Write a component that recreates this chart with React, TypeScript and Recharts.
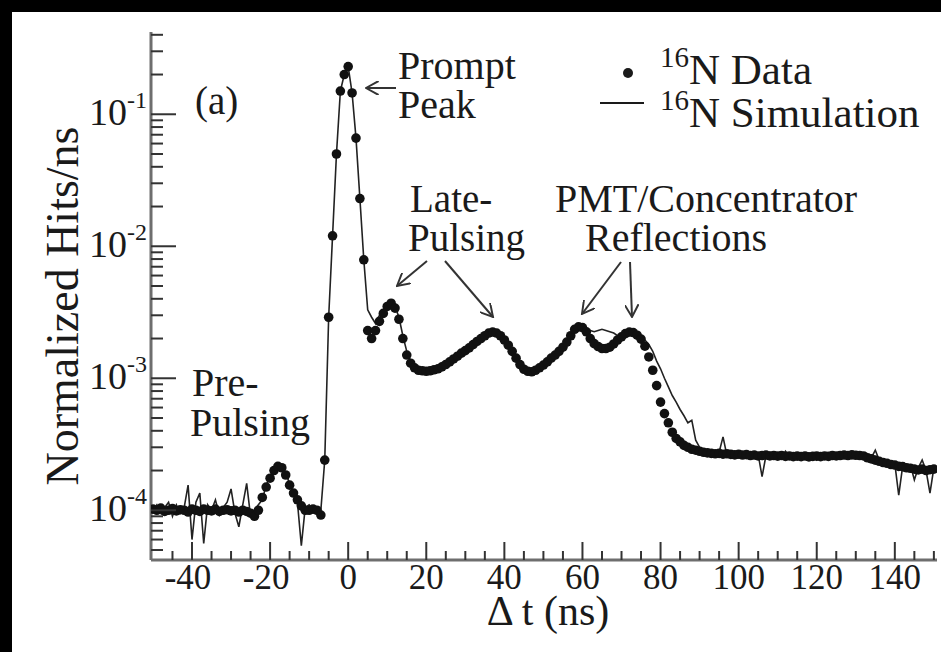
import React from 'react';
import { ComposedChart, Line, Scatter, XAxis, YAxis } from 'recharts';

// time bins (ns)
const TIME_NS = [
  -50, -49, -48, -47, -46, -45, -44, -43, -42, -41,
  -40, -39, -38, -37, -36, -35, -34, -33, -32, -31,
  -30, -29, -28, -27, -26, -25, -24, -23, -22, -21,
  -20, -19, -18, -17, -16, -15, -14, -13, -12, -11,
  -10, -9, -8, -7, -6, -5, -4, -3, -2, -1,
  0, 1, 2, 3, 4, 5, 6, 7, 8, 9,
  10, 11, 12, 13, 14, 15, 16, 17, 18, 19,
  20, 21, 22, 23, 24, 25, 26, 27, 28, 29,
  30, 31, 32, 33, 34, 35, 36, 37, 38, 39,
  40, 41, 42, 43, 44, 45, 46, 47, 48, 49,
  50, 51, 52, 53, 54, 55, 56, 57, 58, 59,
  60, 61, 62, 63, 64, 65, 66, 67, 68, 69,
  70, 71, 72, 73, 74, 75, 76, 77, 78, 79,
  80, 81, 82, 83, 84, 85, 86, 87, 88, 89,
  90, 91, 92, 93, 94, 95, 96, 97, 98, 99,
  100, 101, 102, 103, 104, 105, 106, 107, 108, 109,
  110, 111, 112, 113, 114, 115, 116, 117, 118, 119,
  120, 121, 122, 123, 124, 125, 126, 127, 128, 129,
  130, 131, 132, 133, 134, 135, 136, 137, 138, 139,
  140, 141, 142, 143, 144, 145, 146, 147, 148, 149,
  150,
];

// 16N data, normalized hits/ns
const N16_DATA = [
  1.02e-4, 1.0e-4, 1.04e-4, 9.8e-5, 1.0e-4, 1.03e-4, 9.9e-5, 1.01e-4, 1.0e-4, 9.7e-5,
  1.02e-4, 1.0e-4, 9.8e-5, 1.02e-4, 1.0e-4, 9.9e-5, 1.02e-4, 9.8e-5, 1.0e-4, 1.01e-4,
  9.9e-5, 1.0e-4, 9.7e-5, 1.0e-4, 9.8e-5, 9.5e-5, 9.0e-5, 1.0e-4, 1.25e-4, 1.5e-4,
  1.75e-4, 2.0e-4, 2.15e-4, 2.1e-4, 1.85e-4, 1.55e-4, 1.35e-4, 1.2e-4, 1.08e-4, 1.0e-4,
  1.0e-4, 1.02e-4, 1.0e-4, 9.2e-5, 2.4e-4, 2.9e-3, 1.2e-2, 5.0e-2, 1.5e-1, 2.0e-1,
  2.3e-1, 1.45e-1, 6.6e-2, 2.3e-2, 7.9e-3, 2.3e-3, 2.0e-3, 2.3e-3, 2.7e-3, 3.1e-3,
  3.5e-3, 3.7e-3, 3.4e-3, 2.8e-3, 2.0e-3, 1.5e-3, 1.3e-3, 1.2e-3, 1.15e-3, 1.14e-3,
  1.13e-3, 1.14e-3, 1.16e-3, 1.18e-3, 1.22e-3, 1.27e-3, 1.33e-3, 1.4e-3, 1.47e-3, 1.55e-3,
  1.62e-3, 1.7e-3, 1.8e-3, 1.9e-3, 2.0e-3, 2.1e-3, 2.2e-3, 2.24e-3, 2.2e-3, 2.1e-3,
  1.95e-3, 1.78e-3, 1.6e-3, 1.42e-3, 1.27e-3, 1.17e-3, 1.13e-3, 1.12e-3, 1.15e-3, 1.2e-3,
  1.26e-3, 1.33e-3, 1.42e-3, 1.5e-3, 1.6e-3, 1.72e-3, 1.88e-3, 2.1e-3, 2.35e-3, 2.45e-3,
  2.42e-3, 2.25e-3, 2.0e-3, 1.83e-3, 1.74e-3, 1.68e-3, 1.68e-3, 1.72e-3, 1.82e-3, 1.95e-3,
  2.06e-3, 2.18e-3, 2.24e-3, 2.22e-3, 2.12e-3, 1.98e-3, 1.75e-3, 1.45e-3, 1.15e-3, 8.8e-4,
  6.6e-4, 5.4e-4, 4.6e-4, 3.9e-4, 3.5e-4, 3.3e-4, 3.1e-4, 3.0e-4, 2.9e-4, 2.85e-4,
  2.8e-4, 2.75e-4, 2.72e-4, 2.7e-4, 2.68e-4, 2.7e-4, 2.66e-4, 2.68e-4, 2.65e-4, 2.63e-4,
  2.66e-4, 2.62e-4, 2.64e-4, 2.6e-4, 2.62e-4, 2.58e-4, 2.6e-4, 2.62e-4, 2.58e-4, 2.6e-4,
  2.57e-4, 2.6e-4, 2.56e-4, 2.58e-4, 2.55e-4, 2.57e-4, 2.55e-4, 2.58e-4, 2.54e-4, 2.56e-4,
  2.57e-4, 2.55e-4, 2.58e-4, 2.56e-4, 2.6e-4, 2.58e-4, 2.6e-4, 2.62e-4, 2.6e-4, 2.63e-4,
  2.61e-4, 2.6e-4, 2.58e-4, 2.5e-4, 2.45e-4, 2.4e-4, 2.35e-4, 2.3e-4, 2.27e-4, 2.22e-4,
  2.2e-4, 2.15e-4, 2.14e-4, 2.1e-4, 2.08e-4, 2.05e-4, 2.02e-4, 2.05e-4, 2.0e-4, 2.03e-4,
  2.05e-4,
];

// 16N simulation
const N16_SIM = [
  1.0e-4, 1.1e-4, 9.5e-5, 1.05e-4, 1.15e-4, 9.0e-5, 1.1e-4, 9.5e-5, 1.05e-4, 1.55e-4,
  6.0e-5, 1.15e-4, 1.35e-4, 5.6e-5, 1.1e-4, 1.0e-4, 1.2e-4, 9.2e-5, 1.05e-4, 1.15e-4,
  1.45e-4, 9.5e-5, 7.5e-5, 1.1e-4, 1.6e-4, 9.0e-5, 1.0e-4, 1.1e-4, 1.2e-4, 1.55e-4,
  1.8e-4, 2.05e-4, 2.2e-4, 2.1e-4, 1.9e-4, 1.6e-4, 1.3e-4, 1.15e-4, 5.4e-5, 1.05e-4,
  1.1e-4, 1.0e-4, 1.05e-4, 1.0e-4, 2.4e-4, 2.9e-3, 1.2e-2, 5.0e-2, 1.5e-1, 2.0e-1,
  2.3e-1, 1.45e-1, 6.6e-2, 2.3e-2, 7.9e-3, 3.3e-3, 2.9e-3, 2.6e-3, 3.0e-3, 3.3e-3,
  3.6e-3, 3.8e-3, 3.5e-3, 2.9e-3, 2.1e-3, 1.6e-3, 1.35e-3, 1.22e-3, 1.2e-3, 1.12e-3,
  1.18e-3, 1.12e-3, 1.2e-3, 1.15e-3, 1.25e-3, 1.3e-3, 1.35e-3, 1.38e-3, 1.5e-3, 1.53e-3,
  1.65e-3, 1.68e-3, 1.82e-3, 1.88e-3, 2.02e-3, 2.1e-3, 2.2e-3, 2.25e-3, 2.2e-3, 2.1e-3,
  1.95e-3, 1.8e-3, 1.6e-3, 1.45e-3, 1.28e-3, 1.2e-3, 1.12e-3, 1.15e-3, 1.13e-3, 1.22e-3,
  1.25e-3, 1.35e-3, 1.45e-3, 1.52e-3, 1.62e-3, 1.75e-3, 1.9e-3, 2.1e-3, 2.35e-3, 2.45e-3,
  2.5e-3, 2.4e-3, 2.3e-3, 2.25e-3, 2.3e-3, 2.35e-3, 2.3e-3, 2.25e-3, 2.2e-3, 2.1e-3,
  2.1e-3, 2.15e-3, 2.1e-3, 2.2e-3, 2.15e-3, 2.05e-3, 1.95e-3, 1.8e-3, 1.6e-3, 1.35e-3,
  1.18e-3, 1.0e-3, 8.6e-4, 7.4e-4, 6.6e-4, 5.8e-4, 5.2e-4, 4.6e-4, 4.8e-4, 3.4e-4,
  3.0e-4, 2.85e-4, 2.75e-4, 2.8e-4, 2.65e-4, 2.75e-4, 3.6e-4, 2.6e-4, 2.7e-4, 2.55e-4,
  2.7e-4, 2.6e-4, 2.55e-4, 2.7e-4, 2.5e-4, 2.65e-4, 1.8e-4, 2.6e-4, 2.75e-4, 2.5e-4,
  2.6e-4, 2.5e-4, 2.8e-4, 2.55e-4, 2.45e-4, 2.6e-4, 2.5e-4, 2.7e-4, 2.5e-4, 2.6e-4,
  2.4e-4, 2.6e-4, 2.55e-4, 2.7e-4, 2.5e-4, 2.6e-4, 2.45e-4, 2.7e-4, 2.55e-4, 2.65e-4,
  2.5e-4, 2.6e-4, 2.7e-4, 2.45e-4, 2.5e-4, 2.85e-4, 2.4e-4, 2.3e-4, 2.35e-4, 2.2e-4,
  2.25e-4, 1.3e-4, 2.15e-4, 2.1e-4, 2.2e-4, 1.7e-4, 2.1e-4, 2.4e-4, 2.0e-4, 1.35e-4,
  2.1e-4,
];

const X_TICKS = [
  -45, -40, -35, -30, -25, -20, -15, -10, -5, 0, 5, 10, 15, 20, 25, 30, 35, 40, 45,
  50, 55, 60, 65, 70, 75, 80, 85, 90, 95, 100, 105, 110, 115, 120, 125, 130, 135, 140, 145, 150,
];
const X_LABELS = [-40, -20, 0, 20, 40, 60, 80, 100, 120, 140];

const Y_TICKS = [
  5e-5, 6e-5, 7e-5, 8e-5, 9e-5,
  1e-4, 2e-4, 3e-4, 4e-4, 5e-4, 6e-4, 7e-4, 8e-4, 9e-4,
  1e-3, 2e-3, 3e-3, 4e-3, 5e-3, 6e-3, 7e-3, 8e-3, 9e-3,
  1e-2, 2e-2, 3e-2, 4e-2, 5e-2, 6e-2, 7e-2, 8e-2, 9e-2,
  1e-1, 2e-1, 3e-1, 4e-1,
];
const Y_DECADES = [1e-4, 1e-3, 1e-2, 1e-1];
const Y_EXPONENTS = ['-4', '-3', '-2', '-1'];

const rows = TIME_NS.map((t, i) => ({ t, hits: N16_DATA[i], sim: N16_SIM[i] }));

const FONT = "'Liberation Serif', 'Times New Roman', serif";
const INK = '#1a1a1a';
const TICK = '#333';
const FRAME = { stroke: '#6e6e6e', strokeWidth: 3 };

function XTick({ x, y, payload }: any) {
  const major = X_LABELS.includes(payload.value);
  return (
    <g>
      <line x1={x} x2={x} y1={y} y2={y - (major ? 18 : 9)} stroke={TICK} strokeWidth={2} />
      {major && (
        <text x={payload.value < 0 ? x - 4 : x} y={y + 29} textAnchor="middle" fontFamily={FONT}
          fontSize={35} fill={INK}>
          {payload.value}
        </text>
      )}
    </g>
  );
}

function YTick({ x, y, payload }: any) {
  const k = Y_DECADES.indexOf(payload.value);
  const major = k >= 0;
  return (
    <g>
      <line x1={x} x2={x + (major ? 25 : 12)} y1={y} y2={y} stroke={TICK} strokeWidth={2} />
      {major && (
        <text x={x - 4} y={y + 11} textAnchor="end" fontFamily={FONT} fontSize={38} fill={INK}>
          10
          <tspan fontSize={24} dy={-17}>{Y_EXPONENTS[k]}</tspan>
        </text>
      )}
    </g>
  );
}

function Notes() {
  const txt = { fontFamily: FONT, fontSize: 40, fill: INK } as const;
  const leg = { fontFamily: FONT, fontSize: 43, fill: INK } as const;
  const arrow = { stroke: '#333', strokeWidth: 2, markerEnd: 'url(#head)' } as const;
  return (
    <svg width={941} height={652} style={{ position: 'absolute', left: 0, top: 0, pointerEvents: 'none' }}>
      <defs>
        <marker id="head" viewBox="0 0 10 10" refX={9} refY={5} markerWidth={14} markerHeight={14}
          markerUnits="userSpaceOnUse" orient="auto">
          <path d="M0,0 L9,5 L0,10" fill="none" stroke="#333" strokeWidth={1.4} />
        </marker>
      </defs>
      <text x={195} y={114} {...txt} fontSize={39}>(a)</text>
      <text x={398} y={79} {...txt}>Prompt</text>
      <text x={398} y={118} {...txt}>Peak</text>
      <line x1={396} y1={88} x2={366} y2={88} {...arrow} />
      <text x={410} y={212} {...txt} fontSize={39}>Late-</text>
      <text x={408} y={251} {...txt} fontSize={39}>Pulsing</text>
      <line x1={427} y1={261} x2={397} y2={286} {...arrow} />
      <line x1={445} y1={261} x2={493} y2={317} {...arrow} />
      <text x={555} y={212} {...txt}>PMT/Concentrator</text>
      <text x={585} y={251} {...txt}>Reflections</text>
      <line x1={621} y1={262} x2={582} y2={314} {...arrow} />
      <line x1={630} y1={262} x2={632} y2={317} {...arrow} />
      <text x={192} y={396} {...txt}>Pre-</text>
      <text x={190} y={436} {...txt}>Pulsing</text>

      <circle cx={628} cy={73} r={5} fill={INK} />
      <text x={660} y={84} {...leg}>
        <tspan fontSize={29} dy={-17}>16</tspan>
        <tspan dy={17}>N Data</tspan>
      </text>
      <line x1={600} y1={103} x2={644} y2={103} stroke={INK} strokeWidth={2} />
      <text x={660} y={127} {...leg}>
        <tspan fontSize={29} dy={-17}>16</tspan>
        <tspan dy={17}>N Simulation</tspan>
      </text>

      <text x={78} y={306} transform="rotate(-90, 78, 306)" textAnchor="middle" fontFamily={FONT}
        fontSize={46} fill={INK}>
        Normalized Hits/ns
      </text>
      <text x={548} y={625} textAnchor="middle" fontFamily={FONT} fontSize={42} fill={INK}>
        Δ t (ns)
      </text>
    </svg>
  );
}

export default function App() {
  return (
    <div style={{ position: 'absolute', left: 0, top: 0, width: 941, height: 652, background: '#fff', overflow: 'hidden' }}>
      <div style={{ position: 'absolute', left: 0, top: 0, width: 941, height: 12, background: '#000' }} />
      <div style={{ position: 'absolute', left: 0, top: 0, width: 12, height: 652, background: '#000' }} />
      <div style={{ position: 'absolute', left: 0, top: 0 }}>
        <ComposedChart width={941} height={652} data={rows} margin={{ top: 32, right: 4, bottom: 0, left: 0 }}>
          <XAxis dataKey="t" type="number" domain={[-50.5, 150.8]} allowDataOverflow ticks={X_TICKS}
            interval={0} height={92} tickSize={0} tickMargin={0} tickLine={false} tick={<XTick />}
            axisLine={FRAME} />
          <XAxis xAxisId="top" orientation="top" type="number" domain={[-50.5, 150.8]} height={0}
            tick={false} tickLine={false} axisLine={FRAME} />
          <YAxis type="number" scale="log" domain={[4.2e-5, 0.42]} allowDataOverflow ticks={Y_TICKS}
            interval={0} width={151} tickSize={0} tickMargin={0} tickLine={false} tick={<YTick />}
            axisLine={FRAME} />
          <YAxis yAxisId="right" orientation="right" type="number" domain={[0, 1]} width={0}
            tick={false} tickLine={false} axisLine={FRAME} />
          <Line dataKey="sim" type="linear" stroke="#222" strokeWidth={1.6} dot={false}
            isAnimationActive={false} />
          <Scatter dataKey="hits" isAnimationActive={false}
            shape={(p: any) => <circle cx={p.cx} cy={p.cy} r={4.8} fill="#111" />} />
        </ComposedChart>
      </div>
      <Notes />
    </div>
  );
}
